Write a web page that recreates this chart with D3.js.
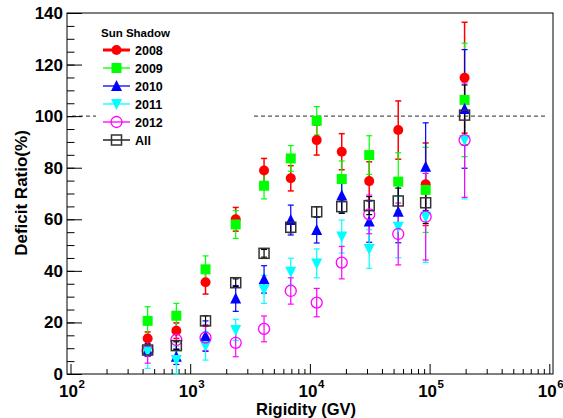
<!DOCTYPE html>
<html lang="en">
  <head>
    <meta charset="UTF-8" />
    <title>Sun Shadow Deficit Ratio</title>
    <style>
      body {
        margin: 0;
        background: #fff;
      }
      svg text {
        font-family: "Liberation Sans", Arial, Helvetica, sans-serif;
        font-weight: bold;
      }
    </style>
  </head>
  <body>
    <svg id="chart" width="563" height="418"></svg>

    <script src="https://d3js.org/d3.v7.min.js"></script>
    <script>
      // rigidity bins (GV)
      const rigidity = [441, 766, 1343, 2400, 4140, 6920, 11400, 18450, 31300, 54700, 92700, 196000];

      // deficit ratio (%) and errors
      const y2008 = [13.8, 16.8, 35.6, 60.0, 78.9, 75.9, 90.7, 86.2, 74.8, 94.6, 73.6, 114.9];
      const e2008 = [2.5, 3.0, 4.6, 4.6, 4.7, 4.9, 5.8, 7.0, 7.5, 11.3, 16.0, 21.5];
      const y2009 = [20.6, 22.6, 40.6, 58.0, 73.0, 83.6, 98.2, 75.6, 84.9, 74.6, 71.4, 106.3];
      const e2009 = [5.5, 4.8, 5.2, 5.4, 5.1, 5.0, 5.5, 7.0, 7.5, 11.2, 16.5, 22.0];
      const y2010 = [9.3, 6.7, 14.7, 29.3, 36.7, 59.7, 55.8, 69.2, 59.1, 62.9, 80.4, 102.8];
      const e2010 = [2.5, 3.0, 5.9, 5.0, 5.3, 5.8, 5.0, 6.7, 8.0, 12.0, 17.0, 23.0];
      const y2011 = [8.7, 5.4, 10.9, 17.1, 32.8, 39.7, 42.9, 53.3, 48.5, 57.1, 61.0, 90.7];
      const e2011 = [6.5, 5.4, 5.5, 4.1, 5.4, 5.2, 5.6, 6.4, 7.5, 12.0, 17.7, 22.8];
      const y2012 = [9.0, 13.2, 14.1, 12.1, 17.5, 32.2, 27.7, 43.2, 61.9, 54.3, 61.0, 90.7];
      const e2012 = [4.8, 4.0, 5.0, 5.4, 5.0, 5.1, 5.5, 6.3, 7.5, 12.0, 16.8, 22.2];
      const yAll = [9.3, 11.0, 20.6, 35.4, 46.8, 56.9, 62.9, 64.9, 65.3, 67.1, 66.4, 100.4];
      const eAll = [1.5, 1.5, 2.0, 1.5, 1.5, 2.1, 2.0, 2.6, 3.5, 5.0, 8.0, 11.7];

      const seriesNames = ["2008", "2009", "2010", "2011", "2012", "All"];
      const xTickValues = [1e2, 1e3, 1e4, 1e5, 1e6];
      const xTickExps = ["2", "3", "4", "5", "6"];
      const yTickValues = [0, 20, 40, 60, 80, 100, 120, 140];

      const series = [
        { name: "2008", y: y2008, e: e2008, color: "#ff0000", shape: "circle", fill: true, lw: 1.5 },
        { name: "2009", y: y2009, e: e2009, color: "#00ff00", shape: "square", fill: true, lw: 1.2 },
        { name: "2010", y: y2010, e: e2010, color: "#0000ff", shape: "triUp", fill: true, lw: 1.2 },
        { name: "2011", y: y2011, e: e2011, color: "#00ffff", shape: "triDown", fill: true, lw: 1.2 },
        { name: "2012", y: y2012, e: e2012, color: "#ff00ff", shape: "circle", fill: false, lw: 1.2 },
        { name: "All", y: yAll, e: eAll, color: "#000000", shape: "square", fill: false, lw: 1.2 },
      ];

      const svg = d3.select("#chart");
      const frame = { left: 67, right: 553, top: 13, bottom: 374 };

      const x = d3.scaleLog().domain([1e2, 1e6]).range([70.5, 549.3]);
      const y = d3.scaleLinear().domain([0, 140]).range([frame.bottom, frame.top]);

      // reference line at 100%
      svg
        .append("line")
        .attr("x1", 72)
        .attr("x2", 548)
        .attr("y1", y(100))
        .attr("y2", y(100))
        .attr("stroke", "#555")
        .attr("stroke-width", 1.3)
        .attr("stroke-dasharray", "4,3");

      // x axis: major and minor ticks pointing inward
      const xMinor = [];
      for (let dec = 1e2; dec < 1e6; dec *= 10) {
        for (let k = 2; k <= 9; k++) xMinor.push(dec * k);
      }
      svg
        .append("g")
        .attr("transform", `translate(0,${frame.bottom})`)
        .call(d3.axisBottom(x).tickValues(xMinor).tickSize(-5).tickFormat(""))
        .call((g) => g.select(".domain").remove());
      svg
        .append("g")
        .attr("transform", `translate(0,${frame.bottom})`)
        .call(d3.axisBottom(x).tickValues(xTickValues).tickSize(-10).tickFormat(""))
        .call((g) => g.select(".domain").remove());

      xTickValues.forEach((v, i) => {
        svg
          .append("text")
          .attr("x", x(v) - 2)
          .attr("y", 397)
          .attr("text-anchor", "middle")
          .attr("font-size", 17)
          .text("10");
        svg
          .append("text")
          .attr("x", x(v) + 8)
          .attr("y", 388)
          .attr("font-size", 11.5)
          .text(xTickExps[i]);
      });

      // y axis
      svg
        .append("g")
        .attr("transform", `translate(${frame.left},0)`)
        .call(d3.axisLeft(y).tickValues(d3.range(0, 141, 5)).tickSize(-7.5).tickFormat(""))
        .call((g) => g.select(".domain").remove());
      svg
        .append("g")
        .attr("transform", `translate(${frame.left},0)`)
        .call(d3.axisLeft(y).tickValues(yTickValues).tickSize(-15).tickFormat(""))
        .call((g) => g.select(".domain").remove());
      svg.selectAll(".tick line").attr("stroke", "#000");

      svg
        .selectAll(".ylab")
        .data(yTickValues)
        .enter()
        .append("text")
        .attr("class", "ylab")
        .attr("x", 63)
        .attr("y", (d) => y(d) + 6)
        .attr("text-anchor", "end")
        .attr("font-size", 17)
        .text((d) => d);

      // frame
      svg
        .append("rect")
        .attr("x", frame.left)
        .attr("y", frame.top)
        .attr("width", frame.right - frame.left)
        .attr("height", frame.bottom - frame.top)
        .attr("fill", "none")
        .attr("stroke", "#000")
        .attr("stroke-width", 1);

      // axis titles
      svg
        .append("text")
        .attr("x", 356)
        .attr("y", 415)
        .attr("text-anchor", "end")
        .attr("font-size", 16.5)
        .text("Rigidity (GV)");
      svg
        .append("text")
        .attr("transform", "translate(27,193) rotate(-90)")
        .attr("text-anchor", "middle")
        .attr("font-size", 17)
        .text("Deficit Ratio(%)");

      function marker(sel, s, cx, cy) {
        const fill = s.fill ? s.color : "none";
        const stroke = s.name === "All" ? "#333" : s.color;
        if (s.shape === "circle") {
          sel
            .append("circle")
            .attr("cx", cx)
            .attr("cy", cy)
            .attr("r", s.fill ? 5 : 5.5)
            .attr("fill", s.fill ? s.color : "none")
            .attr("stroke", stroke)
            .attr("stroke-width", s.fill ? 0 : 1.3);
        } else if (s.shape === "square") {
          sel
            .append("rect")
            .attr("x", cx - 5)
            .attr("y", cy - 5)
            .attr("width", 10)
            .attr("height", 10)
            .attr("fill", fill)
            .attr("stroke", s.fill ? "none" : stroke)
            .attr("stroke-width", 1.5);
        } else {
          const h = 10, w = 11;
          const pts =
            s.shape === "triUp"
              ? [[cx, cy - h / 2 - 1], [cx - w / 2, cy + h / 2], [cx + w / 2, cy + h / 2]]
              : [[cx, cy + h / 2 + 1], [cx - w / 2, cy - h / 2], [cx + w / 2, cy - h / 2]];
          sel
            .append("polygon")
            .attr("points", pts.map((p) => p.join(",")).join(" "))
            .attr("fill", fill);
        }
      }

      // error bars then markers (later series on top)
      series.forEach((s) => {
        const g = svg.append("g");
        rigidity.forEach((r, i) => {
          const cx = x(r);
          const lo = y(Math.max(0, s.y[i] - s.e[i]));
          const hi = y(s.y[i] + s.e[i]);
          g.append("line")
            .attr("x1", cx).attr("x2", cx)
            .attr("y1", lo).attr("y2", hi)
            .attr("stroke", s.color)
            .attr("stroke-width", s.lw);
          [lo, hi].forEach((yy) =>
            g.append("line")
              .attr("x1", cx - 3).attr("x2", cx + 3)
              .attr("y1", yy).attr("y2", yy)
              .attr("stroke", s.color)
              .attr("stroke-width", s.lw)
          );
        });
      });
      series.forEach((s) => {
        const g = svg.append("g");
        rigidity.forEach((r, i) => marker(g, s, x(r), y(s.y[i])));
      });

      // legend
      const leg = svg.append("g");
      leg
        .append("rect")
        .attr("x", 96)
        .attr("y", 20)
        .attr("width", 156)
        .attr("height", 130)
        .attr("fill", "#fff");
      leg
        .append("text")
        .attr("x", 101)
        .attr("y", 37)
        .attr("font-size", 11.5)
        .text("Sun Shadow");
      series.forEach((s, i) => {
        const cy = 50 + i * 18;
        leg
          .append("line")
          .attr("x1", 103)
          .attr("x2", 130)
          .attr("y1", cy)
          .attr("y2", cy)
          .attr("stroke", s.color)
          .attr("stroke-width", i === 0 ? 3 : 1.3);
        marker(leg, s, 116.5, cy);
        leg
          .append("text")
          .attr("x", 135)
          .attr("y", cy + 4.5)
          .attr("font-size", 12.5)
          .text(seriesNames[i]);
      });
    </script>
  </body>
</html>
